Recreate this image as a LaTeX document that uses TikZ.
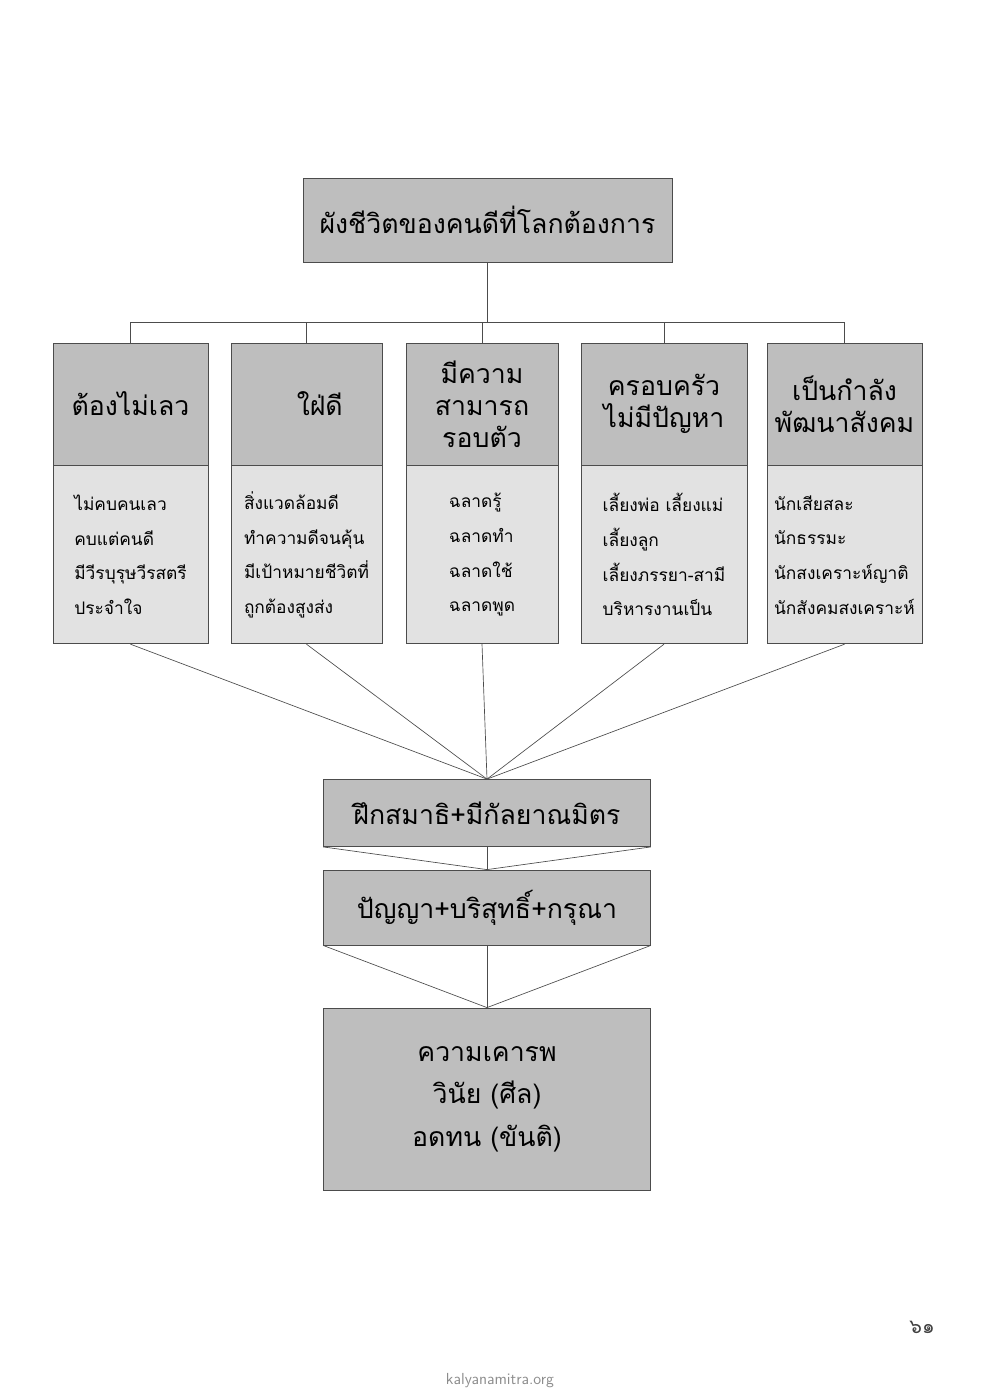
\documentclass[tikz,border=0pt]{standalone}
\usepackage{fontspec}
\newfontfamily\thaifont[Script=Thai]{Loma}
\definecolor{headgray}{RGB}{190,190,190}
\definecolor{bodygray}{RGB}{226,226,226}
\tikzset{
  box/.style={draw=black!70, line width=0.6pt, fill=headgray, inner sep=2pt, align=center},
  head/.style={box, font=\thaifont\fontsize{20}{22}\selectfont},
  body/.style={box, fill=bodygray, align=left, font=\thaifont\fontsize{13}{26}\selectfont},
  link/.style={draw=black!70, line width=0.5pt}
}
\begin{document}
\begin{tikzpicture}[x=0.75pt,y=-0.75pt]
\useasboundingbox (0,0) rectangle (1000,1394);

% top box
\node (top) [head, minimum width=369*0.75pt, minimum height=84*0.75pt] at (487.5,220) {ผังชีวิตของคนดีที่โลกต้องการ};
\coordinate (bus) at (487.5,322);
\coordinate (busL) at (130.5,322);
\coordinate (busR) at (844.5,322);
\draw [link] (top) -- (bus);
\draw [link] (busL) -- (busR);

% columns
\foreach \n/\cx/\w/\htext/\btext in {
  a/130.5/155/{ต้องไม่เลว}/{ไม่คบคนเลว\\คบแต่คนดี\\มีวีรบุรุษวีรสตรี\\ประจำใจ},
  b/306.5/151/{\hspace*{1em}ใฝ่ดี}/{สิ่งแวดล้อมดี\\ทำความดีจนคุ้น\\มีเป้าหมายชีวิตที่\\ถูกต้องสูงส่ง},
  c/482/152/{มีความ\\สามารถ\\รอบตัว}/{ฉลาดรู้\\ฉลาดทำ\\ฉลาดใช้\\ฉลาดพูด},
  d/664/166/{ครอบครัว\\ไม่มีปัญหา}/{เลี้ยงพ่อ เลี้ยงแม่\\เลี้ยงลูก\\เลี้ยงภรรยา-สามี\\บริหารงานเป็น},
  e/844.5/155/{เป็นกำลัง\\พัฒนาสังคม}/{นักเสียสละ\\นักธรรมะ\\นักสงเคราะห์ญาติ\\นักสังคมสงเคราะห์}}
{
  \node (\n h) [head, minimum width=\w*0.75pt, minimum height=122*0.75pt, font=\thaifont\fontsize{20}{24}\selectfont] at (\cx,404) {\htext};
  \node (\n b) [body, minimum width=\w*0.75pt, minimum height=178*0.75pt, anchor=north] at (\n h.south) {\btext};
  \coordinate (\n t) at (\cx,322);
  \draw [link] (\n t) -- (\n h);
}

% middle boxes
\node (sam) [head, minimum width=327*0.75pt, minimum height=67*0.75pt] at (487,813) {ฝึกสมาธิ+มีกัลยาณมิตร};
\node (pan) [head, minimum width=327*0.75pt, minimum height=75*0.75pt] at (487,907.5) {ปัญญา+บริสุทธิ์+กรุณา};
\node (base) [head, minimum width=327*0.75pt, minimum height=182*0.75pt, font=\thaifont\fontsize{20}{32}\selectfont] at (487,1099) {ความเคารพ\\วินัย (ศีล)\\อดทน (ขันติ)};

\foreach \n in {a,b,c,d,e}
  \draw [link] (\n b.south) -- (sam.north);
\draw [link] (sam.south west) -- (pan.north) -- (sam.south east);
\draw [link] (sam) -- (pan);
\draw [link] (pan.south west) -- (base.north) -- (pan.south east);
\draw [link] (pan) -- (base);

% page number and footer
\node (page) [font=\thaifont\fontsize{15}{17}\selectfont, text=black!75] at (922,1327) {๖๑};
\node (site) [font=\fontsize{12}{14}\selectfont\sffamily, text=black!45] at (500,1381) {kalyanamitra.org};
\end{tikzpicture}
\end{document}
